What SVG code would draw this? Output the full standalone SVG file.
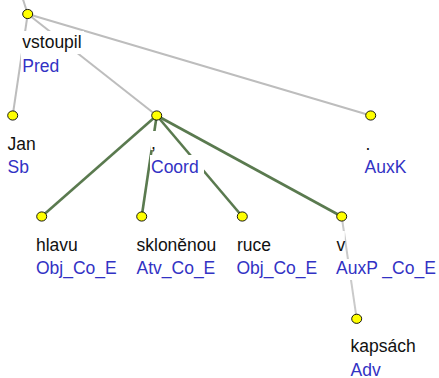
<svg xmlns="http://www.w3.org/2000/svg" width="439" height="378" viewBox="0 0 439 378">
<style>
.e{stroke:#bdbdbd;stroke-width:2;fill:none}
.g{stroke:#5a7a4f;stroke-width:2.6;fill:none}
.d{stroke:#cacaca;stroke-width:2;fill:none}
.n{fill:#ffff00;stroke:#000;stroke-width:0.9}
.bg{fill:#fff}
.f{font-family:"Liberation Sans",Arial,sans-serif;font-size:17.5px;fill:#111}
.a{font-family:"Liberation Sans",Arial,sans-serif;font-size:17.5px;fill:#3232c4}
</style>
<rect width="439" height="378" fill="#fff"/>
<g id="connectors">
<line class="e" x1="19" y1="-13" x2="27.7" y2="14"/>
<line class="e" x1="27.7" y1="14" x2="12.7" y2="115.5"/>
<line class="e" x1="27.7" y1="14" x2="156.7" y2="115.5"/>
<line class="e" x1="27.7" y1="14" x2="370.7" y2="115.5"/>
<line class="g" x1="156.7" y1="115.5" x2="41.7" y2="216.5"/>
<line class="g" x1="156.7" y1="115.5" x2="141.7" y2="216.5"/>
<line class="g" x1="156.7" y1="115.5" x2="242.3" y2="216.5"/>
<line class="g" x1="156.7" y1="115.5" x2="341.7" y2="216.5"/>
<line class="d" x1="341.7" y1="216.5" x2="356.7" y2="318.8"/>
</g>
<g id="n-vstoupil">
<rect class="bg" x="21" y="31" width="63" height="23"/>
<rect class="bg" x="21" y="54" width="41" height="23"/>
<ellipse class="n" cx="27.7" cy="14" rx="5" ry="4.6"/>
<text class="f" x="22.3" y="48">vstoupil</text>
<text class="a" x="22.3" y="71.5">Pred</text>
</g>
<g id="n-jan">
<ellipse class="n" cx="12.7" cy="115.5" rx="5" ry="4.6"/>
<text class="f" x="7.5" y="149.5">Jan</text>
<text class="a" x="7.5" y="173">Sb</text>
</g>
<g id="n-coord">
<rect class="bg" x="150.5" y="131" width="6.5" height="19"/>
<rect class="bg" x="150" y="155" width="54" height="23"/>
<ellipse class="n" cx="156.7" cy="115.5" rx="5" ry="4.6"/>
<text class="f" x="151" y="148.5">,</text>
<text class="a" x="151" y="173">Coord</text>
</g>
<g id="n-auxk">
<ellipse class="n" cx="370.7" cy="115.5" rx="5" ry="4.6"/>
<text class="f" x="365.5" y="149.5">.</text>
<text class="a" x="364.5" y="173">AuxK</text>
</g>
<g id="n-hlavu">
<ellipse class="n" cx="41.7" cy="216.5" rx="5" ry="4.6"/>
<text class="f" x="36" y="250.5">hlavu</text>
<text class="a" x="36" y="274">Obj_Co_E</text>
</g>
<g id="n-sklonenou">
<ellipse class="n" cx="141.7" cy="216.5" rx="5" ry="4.6"/>
<text class="f" x="136.5" y="250.5">skloněnou</text>
<text class="a" x="136.5" y="274">Atv_Co_E</text>
</g>
<g id="n-ruce">
<ellipse class="n" cx="242.3" cy="216.5" rx="5" ry="4.6"/>
<text class="f" x="237" y="250.5">ruce</text>
<text class="a" x="236.5" y="274">Obj_Co_E</text>
</g>
<g id="n-v">
<rect class="bg" x="336" y="231" width="8.8" height="25"/>
<rect class="bg" x="335.5" y="259" width="103.5" height="21"/>
<ellipse class="n" cx="341.7" cy="216.5" rx="5" ry="4.6"/>
<text class="f" x="336.5" y="250.5">v</text>
<text class="a" x="336" y="274">AuxP _Co_E</text>
</g>
<g id="n-kapsach">
<ellipse class="n" cx="356.7" cy="318.8" rx="5" ry="4.6"/>
<text class="f" x="350.5" y="352.3">kapsách</text>
<text class="a" x="350.5" y="375.5">Adv</text>
</g>
</svg>
